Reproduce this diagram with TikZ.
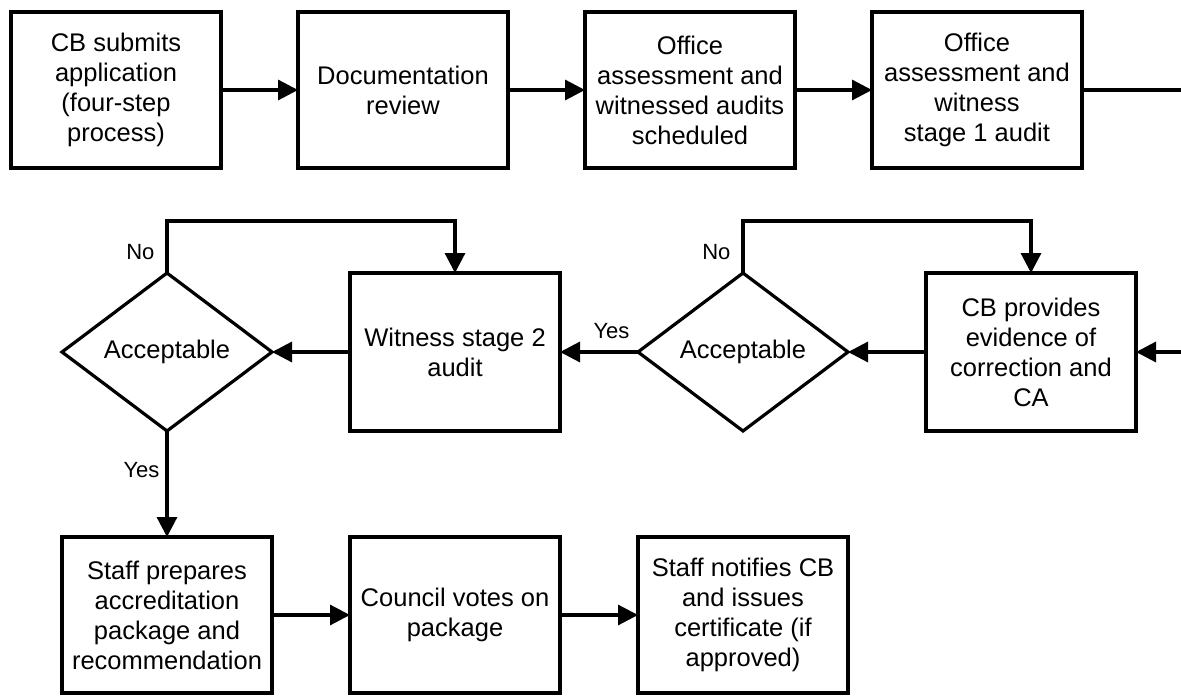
\documentclass[tikz,border=0pt]{standalone}
\usepackage{fontspec}
\setmainfont{Liberation Sans}
\usepackage{tikz}
\usetikzlibrary{shapes.geometric,arrows.meta,positioning}

\begin{document}
\begin{tikzpicture}[
        x=1pt, y=1pt,
        node distance=105pt and 77pt,
        box/.style={rectangle, draw, line width=3.2pt, outer sep=0pt,
            minimum width=210pt, minimum height=#1,
            align=center, font=\fontsize{25.5}{30}\selectfont},
        box/.default=156pt,
        decision/.style={diamond, draw, line width=3.2pt, outer sep=0pt, inner sep=0pt,
            aspect=1.33, minimum width=210pt, minimum height=158pt,
            font=\fontsize{25.5}{30}\selectfont},
        flow/.style={line width=3.2pt, -{Triangle[length=20pt,width=20pt]}},
        lbl/.style={font=\fontsize{22}{26}\selectfont, inner sep=1pt}
    ]
        \useasboundingbox (0,0) rectangle (1181,-696);

        % top row
        \node[box] (apply) at (116,-90) {CB submits\\application\\(four-step\\process)};
        \node[box, right=of apply] (docreview) {Documentation\\review};
        \node[box, right=of docreview] (schedule) {Office\\assessment and\\witnessed audits\\scheduled};
        \node[box, right=of schedule] (stageone) {Office\\assessment and\\witness\\stage 1 audit};

        % middle row
        \node[decision] (accept1) at (167,-352) {Acceptable};
        \node[box=158pt, right=78pt of accept1] (stagetwo) {Witness stage 2\\audit};
        \node[decision, right=78pt of stagetwo] (accept2) {Acceptable};
        \node[box=158pt, right=78pt of accept2] (evidence) {CB provides\\evidence of\\correction and\\CA};

        % bottom row
        \node[box, below=106pt of accept1] (package) {Staff prepares\\accreditation\\package and\\recommendation};
        \node[box, right=78pt of package] (council) {Council votes on\\package};
        \node[box, right=78pt of council] (notify) {Staff notifies CB\\and issues\\certificate (if\\approved)};

        \coordinate (edgetop) at (1181,-90);
        \coordinate (edgemid) at (1181,-352);

        \draw[flow] (apply) -- (docreview);
        \draw[flow] (docreview) -- (schedule);
        \draw[flow] (schedule) -- (stageone);
        \draw[line width=3.2pt] (stageone) -- (edgetop);
        \draw[flow] (edgemid) -- (evidence);

        \draw[flow] (evidence) -- (accept2);
        \draw[flow] (accept2) -- node[lbl, above=11pt, pos=0.34] {Yes} (stagetwo);
        \draw[flow] (accept2.north) -- node[lbl, left=10pt, pos=0.4] {No} ++(0,52) -| (evidence.north);
        \draw[flow] (stagetwo) -- (accept1);
        \draw[flow] (accept1.north) -- node[lbl, left=10pt, pos=0.4] {No} ++(0,52) -| (stagetwo.north);
        \draw[flow] (accept1) -- node[lbl, left=5pt, pos=0.37] {Yes} (package);

        \draw[flow] (package) -- (council);
        \draw[flow] (council) -- (notify);
    \end{tikzpicture}
\end{document}
